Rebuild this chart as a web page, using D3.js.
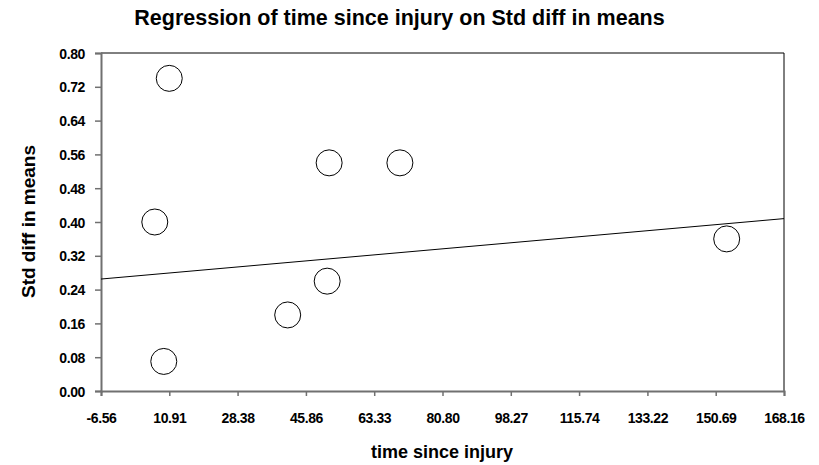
<!DOCTYPE html>
<html><head><meta charset="utf-8">
<script src="https://cdn.jsdelivr.net/npm/d3@7"></script>
<style>body{margin:0;background:#fff}svg{display:block}</style>
</head><body>
<script>
const xTicks = [-6.56, 10.91, 28.38, 45.86, 63.33, 80.80, 98.27, 115.74, 133.22, 150.69, 168.16];
const yTicks = [0.00, 0.08, 0.16, 0.24, 0.32, 0.40, 0.48, 0.56, 0.64, 0.72, 0.80];
const studyX = [10.9, 7.2, 9.5, 41.2, 51.3, 51.8, 69.9, 153.5];
const studyY = [0.74, 0.40, 0.07, 0.18, 0.26, 0.54, 0.54, 0.36];
const lineX = [-6.56, 168.16];
const lineY = [0.265, 0.408];

const W = 819, H = 465;
const m = {l:101, r:784, t:53, b:391};
const svg = d3.select("body").append("svg").attr("width", W).attr("height", H);
const x = d3.scaleLinear().domain([-6.56, 168.16]).range([m.l, m.r]);
const y = d3.scaleLinear().domain([0, 0.8]).range([m.b, m.t]);
const font = "'Liberation Sans', Arial, sans-serif";

// frame top/right
svg.append("line").attr("x1", m.l).attr("x2", m.r).attr("y1", m.t).attr("y2", m.t).attr("stroke", "#000").attr("stroke-width", 1);
svg.append("line").attr("x1", m.r).attr("x2", m.r).attr("y1", m.t).attr("y2", m.b).attr("stroke", "#000").attr("stroke-width", 1);

const xa = svg.append("g").attr("transform", `translate(0,${m.b})`)
  .call(d3.axisBottom(x).tickValues(xTicks).tickFormat(d => d.toFixed(2)).tickSize(5).tickPadding(17));
const ya = svg.append("g").attr("transform", `translate(${m.l},0)`)
  .call(d3.axisLeft(y).tickValues(yTicks).tickFormat(d => d.toFixed(2)).tickSize(6).tickPadding(10));
[xa, ya].forEach(g => {
  g.select(".domain").attr("stroke", "#707070").attr("stroke-width", 2);
  g.selectAll(".tick line").attr("stroke", "#707070").attr("stroke-width", 1.5);
  g.selectAll("text").attr("font-family", font).attr("font-weight", "bold").attr("font-size", 14)
    .attr("letter-spacing", -0.4).attr("fill", "#000");
});
xa.selectAll("text").attr("dy", "0.71em");
ya.selectAll("text").attr("dy", "0.36em");

// regression line
svg.append("line").attr("x1", x(lineX[0])).attr("y1", y(lineY[0])).attr("x2", x(lineX[1])).attr("y2", y(lineY[1]))
  .attr("stroke", "#000").attr("stroke-width", 1);

svg.append("g").selectAll("circle").data(studyX.map((d, i) => [d, studyY[i]])).join("circle")
  .attr("cx", d => x(d[0])).attr("cy", d => y(d[1])).attr("r", 13)
  .attr("fill", "#fff").attr("stroke", "#000").attr("stroke-width", 1);

svg.append("text").attr("x", 399.5).attr("y", 25).attr("text-anchor", "middle")
  .attr("font-family", font).attr("font-weight", "bold").attr("font-size", 21.5)
  .text("Regression of time since injury on Std diff in means");
svg.append("text").attr("x", 442).attr("y", 458).attr("text-anchor", "middle")
  .attr("font-family", font).attr("font-weight", "bold").attr("font-size", 18)
  .text("time since injury");
svg.append("text").attr("transform", `translate(35,221.5) rotate(-90)`).attr("text-anchor", "middle")
  .attr("font-family", font).attr("font-weight", "bold").attr("font-size", 19)
  .text("Std diff in means");
</script>
</body></html>
